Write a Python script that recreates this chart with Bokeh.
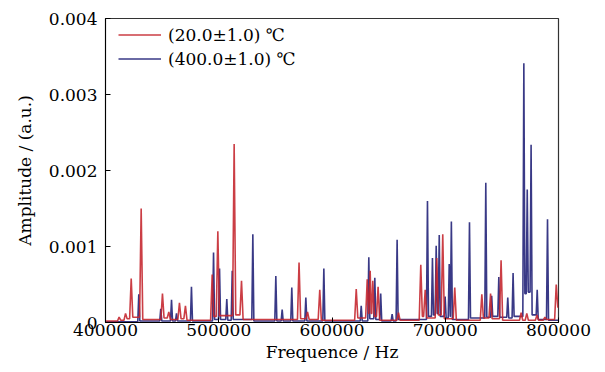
from bokeh.plotting import figure
from bokeh.models import FixedTicker, Legend, LegendItem, Range1d
from bokeh.embed import file_html
from bokeh.resources import INLINE

# ---- data ----
x_ticks = [400000, 500000, 600000, 700000, 800000]
x_tick_labels = ["400000", "500000", "600000", "700000", "800000"]
y_ticks = [0, 0.001, 0.002, 0.003, 0.004]
y_tick_labels = ["0", "0.001", "0.002", "0.003", "0.004"]

red_label = "(20.0\u00b11.0) \u2103"
blue_label = "(400.0\u00b11.0) \u2103"

# peak frequency (Hz) and peak amplitude; valley = level between consecutive
# peaks (first/last entries are the levels at the two ends of the axis)
red_freq = [412000, 417700, 422700, 431500, 450300, 455900, 465300, 470600,
            494200, 499200, 513600, 520100, 570900, 578400, 589200, 621400,
            631100, 633700, 636000, 640700, 658700, 678400, 682300, 692500,
            697800, 708400, 732300, 740000, 749300, 767000, 772000, 781000,
            788000, 798000]
red_amp = [0.00007, 0.00012, 0.00058, 0.00150, 0.00038, 0.00014, 0.00026, 0.00022,
           0.00063, 0.00120, 0.00235, 0.00055, 0.00079, 0.00014, 0.00043, 0.00044,
           0.00057, 0.00068, 0.00055, 0.00047, 0.00013, 0.00076, 0.00043, 0.00085,
           0.00116, 0.00046, 0.00037, 0.00038, 0.00082, 0.00013, 0.00012, 0.00010,
           0.00007, 0.00050]
red_valley = [0.00002, 0.00003, 0.00005, 0.00007, 0.00004, 0.00006, 0.00004, 0.00005,
              0.00003, 0.00008, 0.00009, 0.00010, 0.00004, 0.00005, 0.00004, 0.00003,
              0.00006, 0.00012, 0.00012, 0.00008, 0.00003, 0.00003, 0.00008, 0.00006,
              0.00010, 0.00005, 0.00003, 0.00006, 0.00005, 0.00003, 0.00003, 0.00003,
              0.00003, 0.00004, 0.00020]

blue_freq = [429400, 448800, 458300, 462700, 475900, 495400, 500700, 507100,
             511900, 530100, 550400, 556000, 564500, 576900, 592800, 625800,
             632500, 637800, 643000, 653100, 657500, 684300, 688700, 692000,
             694700, 699900, 703500, 705400, 721400, 735800, 741000, 747300,
             755200, 759900, 769400, 772400, 775800, 781200, 790300]
blue_amp = [0.00037, 0.00018, 0.00030, 0.00012, 0.00047, 0.00092, 0.00071, 0.00031,
            0.00068, 0.00116, 0.00061, 0.00017, 0.00046, 0.00033, 0.00071, 0.00022,
            0.00086, 0.00059, 0.00038, 0.00011, 0.00109, 0.00160, 0.00085, 0.00101,
            0.00115, 0.00034, 0.00077, 0.00133, 0.00132, 0.00184, 0.00035, 0.00060,
            0.00033, 0.00065, 0.00341, 0.00175, 0.00234, 0.00043, 0.00136]
blue_valley = [0.00001, 0.00002, 0.00002, 0.00002, 0.00002, 0.00002, 0.00004, 0.00004,
               0.00003, 0.00004, 0.00002, 0.00002, 0.00002, 0.00002, 0.00002, 0.00002,
               0.00002, 0.00005, 0.00004, 0.00002, 0.00002, 0.00004, 0.00008, 0.00010,
               0.00012, 0.00008, 0.00006, 0.00008, 0.00004, 0.00006, 0.00007, 0.00008,
               0.00007, 0.00006, 0.00008, 0.00038, 0.00040, 0.00010, 0.00004, 0.00003]


def build_line(freq, amp, valley, half_width):
    xs = [x_ticks[0]]
    ys = [valley[0]]
    for i, (f, a) in enumerate(zip(freq, amp)):
        xs += [f - half_width, f, f + half_width]
        ys += [valley[i], a, valley[i + 1]]
    xs.append(x_ticks[-1])
    ys.append(valley[-1])
    order = sorted(range(len(xs)), key=lambda k: xs[k])
    return [xs[k] for k in order], [ys[k] for k in order]


rx, ry = build_line(red_freq, red_amp, red_valley, 1400)
bx, by = build_line(blue_freq, blue_amp, blue_valley, 900)

FONT = "DejaVu Serif"

p = figure(width=600, height=368, output_backend="svg", toolbar_location=None,
           x_range=Range1d(x_ticks[0], x_ticks[-1]),
           y_range=Range1d(y_ticks[0], y_ticks[-1]),
           min_border_left=105, min_border_right=42,
           min_border_top=18, min_border_bottom=46)
p.background_fill_color = "white"
p.border_fill_color = "white"
p.outline_line_color = "#333333"
p.outline_line_width = 1.2
p.grid.visible = False

blue_r = p.line(bx, by, line_color="#28287c", line_width=1.6, line_alpha=0.92)
red_r = p.line(rx, ry, line_color="#c4232b", line_width=1.6, line_alpha=0.88)

for ax, ticks, labels in ((p.xaxis[0], x_ticks, x_tick_labels),
                          (p.yaxis[0], y_ticks, y_tick_labels)):
    ax.ticker = FixedTicker(ticks=ticks)
    ax.major_label_overrides = {t: l for t, l in zip(ticks, labels)}
    ax.major_tick_in = 5
    ax.major_tick_out = 0
    ax.minor_tick_in = 0
    ax.minor_tick_out = 0
    ax.axis_line_color = "black"
    ax.major_tick_line_color = "black"
    ax.major_label_text_font = FONT
    ax.major_label_text_font_size = "17px"
    ax.major_label_text_color = "black"
    ax.axis_label_text_font = FONT
    ax.axis_label_text_font_size = "17px"
    ax.axis_label_text_font_style = "normal"
    ax.axis_label_text_color = "black"

p.xaxis.axis_label = "Frequence / Hz"
p.yaxis.axis_label = "Amplitude / (a.u.)"
p.xaxis.major_label_standoff = 1
p.xaxis.axis_label_standoff = 3
p.yaxis.major_label_standoff = 8
p.yaxis.axis_label_standoff = 11

legend = Legend(items=[LegendItem(label=red_label, renderers=[red_r]),
                       LegendItem(label=blue_label, renderers=[blue_r])],
                location=(13, 253), margin=0, padding=5, spacing=3,
                glyph_width=43, glyph_height=21, label_height=21,
                label_standoff=7, border_line_color=None,
                background_fill_alpha=0.0,
                label_text_font=FONT, label_text_font_size="17px",
                label_text_color="black")
p.add_layout(legend)

open("out.html", "w").write(file_html(p, INLINE))
